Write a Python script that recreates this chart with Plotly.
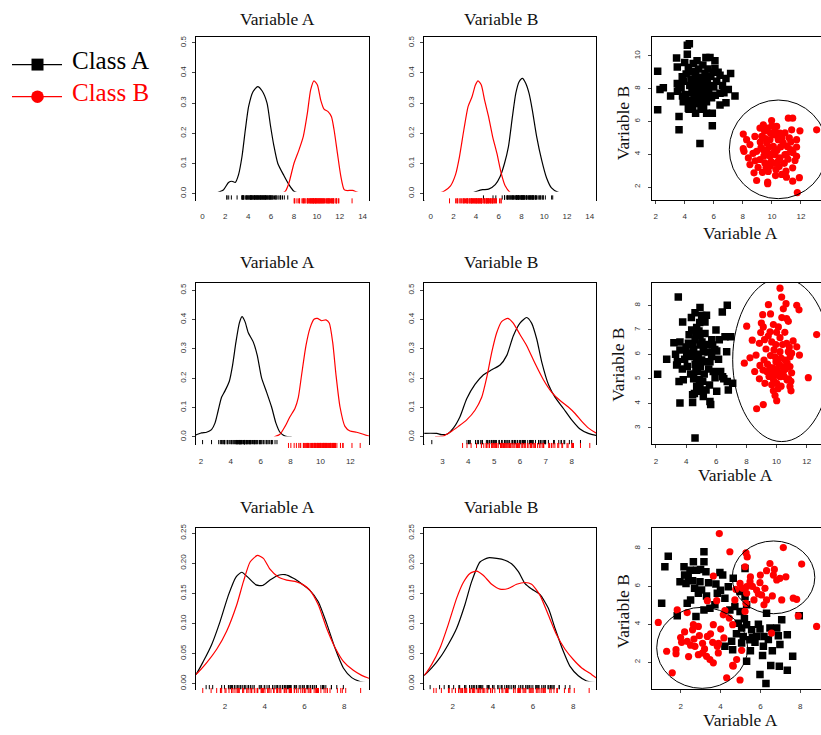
import plotly.graph_objects as go

# ------------------------------------------------------------------
# DATA
# Scatter points are (Variable A, Variable B) pairs
# ------------------------------------------------------------------
r1_classA = [(2.14, 9.07), (2.14, 6.71), (2.53, 8.06), (2.30, 7.96), (3.03, 7.56), (3.44, 9.88),
             (3.61, 6.30), (3.61, 5.49), (4.18, 10.65), (4.32, 10.75), (4.18, 10.10), (3.49, 9.33),
             (3.49, 8.32), (3.83, 8.73), (4.59, 9.54), (3.90, 7.21), (5.05, 4.65), (5.46, 9.90),
             (5.74, 9.90), (6.08, 9.70), (6.08, 9.23), (7.16, 8.93), (6.84, 8.63), (6.43, 8.83),
             (7.00, 7.96), (7.46, 7.56), (6.84, 7.15), (6.43, 7.01), (6.43, 7.72), (5.90, 6.51),
             (5.90, 5.74), (5.51, 6.51), (5.12, 6.75), (4.75, 6.51), (4.25, 6.81),
             (3.75, 8.05), (3.95, 8.45), (4.05, 7.65), (4.10, 8.90), (4.20, 7.30), (4.25, 9.30),
             (4.35, 8.20), (4.40, 7.00), (4.45, 8.60), (4.50, 7.75), (4.55, 9.05), (4.60, 8.30),
             (4.65, 7.40), (4.70, 8.00), (4.75, 8.80), (4.80, 7.10), (4.85, 7.60), (4.90, 8.45),
             (4.95, 9.20), (5.00, 7.85), (5.05, 8.10), (5.10, 7.30), (5.15, 8.70), (5.20, 7.70),
             (5.25, 9.45), (5.30, 8.25), (5.35, 7.50), (5.40, 8.95), (5.45, 7.95), (5.50, 7.20),
             (5.55, 8.50), (5.60, 9.20), (5.65, 7.75), (5.70, 8.20), (5.80, 8.75), (5.85, 7.45),
             (5.95, 9.00), (6.00, 8.10), (6.10, 7.60), (6.20, 8.45), (3.85, 7.55), (4.00, 9.60),
             (4.30, 6.75), (4.55, 6.90), (4.85, 9.70), (5.30, 6.90), (6.30, 9.00), (6.60, 8.20),
             (6.70, 7.75), (3.60, 8.20), (3.50, 7.85)]
r1_classB = [(8.03, 5.23), (8.03, 4.34), (8.08, 4.18), (8.38, 3.78), (8.49, 3.37), (8.77, 2.87),
             (8.95, 2.40), (8.26, 4.89), (8.49, 4.59), (8.83, 5.09), (9.18, 5.60), (9.41, 5.80),
             (9.71, 2.30), (9.71, 2.20), (9.98, 6.06), (10.33, 5.70), (10.56, 5.29), (11.13, 6.20),
             (11.43, 6.20), (11.36, 5.49), (11.93, 5.43), (13.08, 5.49), (11.70, 4.89), (11.70, 4.44),
             (11.70, 3.88), (11.43, 3.17), (11.59, 3.62), (11.89, 2.57), (11.43, 2.36), (11.75, 1.66),
             (10.67, 2.77), (10.97, 2.97), (10.28, 3.07), (9.87, 3.27), (9.52, 3.47), (9.18, 3.68),
             (8.95, 4.18), (9.41, 4.28), (9.64, 4.69), (9.87, 4.89), (10.10, 5.19), (10.44, 4.89),
             (10.78, 4.69), (11.06, 4.48), (11.29, 4.28), (10.90, 3.98), (10.56, 3.78), (10.21, 3.98),
             (9.87, 3.88), (9.64, 4.18), (10.10, 4.48), (9.30, 5.10), (9.50, 5.40), (9.70, 5.60),
             (9.90, 5.30), (10.00, 5.75), (10.20, 5.45), (9.20, 4.75), (9.45, 3.90), (9.60, 3.20),
             (9.75, 2.95), (9.95, 3.55), (10.05, 4.05), (10.15, 3.45), (10.35, 4.25), (10.45, 3.60),
             (10.60, 4.45), (10.70, 5.00), (10.85, 3.45), (10.90, 5.30), (11.00, 4.00), (11.10, 3.70),
             (11.20, 5.00), (11.30, 4.75), (11.45, 4.10), (9.35, 2.90), (9.05, 3.20), (8.70, 4.05),
             (9.80, 4.45), (9.55, 4.95), (10.25, 2.70), (10.50, 3.25), (11.00, 2.60), (8.85, 3.60),
             (9.25, 4.40), (10.40, 5.10)]

r2_classA = [(2.11, 5.19), (2.71, 5.80), (3.19, 6.47), (3.48, 8.34), (3.77, 7.32), (3.59, 6.51),
             (3.59, 6.18), (3.42, 5.70), (3.37, 5.57), (3.53, 4.89), (3.81, 4.96), (3.59, 4.01),
             (4.37, 6.99), (4.43, 6.41), (4.08, 5.50), (4.15, 6.45), (4.59, 7.70), (4.92, 7.91),
             (5.03, 7.59), (5.25, 7.32), (4.43, 4.35), (4.43, 4.04), (4.59, 2.59), (4.65, 5.43),
             (4.88, 4.96), (4.92, 4.76), (5.14, 4.28), (4.92, 4.49), (5.32, 4.55), (5.58, 4.08),
             (5.63, 3.95), (6.03, 4.49), (5.92, 5.05), (6.29, 5.30), (6.42, 5.09), (6.73, 4.89),
             (6.80, 4.55), (7.09, 4.82), (6.69, 6.11), (6.73, 8.00), (6.40, 7.73), (6.58, 6.72),
             (6.96, 6.72), (5.98, 6.99), (5.76, 6.38), (6.03, 6.14), (5.58, 5.70), (5.69, 5.91),
             (5.14, 6.11), (4.92, 6.38), (5.25, 6.85), (4.92, 6.78), (4.70, 5.84), (5.03, 5.77),
             (5.36, 5.70), (4.04, 6.04), (4.26, 5.91), (4.50, 6.20), (4.60, 6.60), (4.70, 7.10),
             (4.75, 5.30), (4.80, 6.00), (4.85, 6.95), (4.60, 5.60), (4.70, 4.70), (4.50, 5.00),
             (4.30, 5.20), (4.20, 6.80), (4.00, 6.30), (4.95, 5.50), (5.05, 6.50), (5.20, 5.20),
             (5.10, 4.90), (5.30, 6.40), (5.45, 6.10), (5.50, 5.40), (5.70, 6.60), (5.80, 5.30),
             (5.35, 7.60), (3.90, 5.80), (3.75, 5.40), (3.30, 6.00), (4.35, 7.50), (4.90, 7.30),
             (5.55, 4.75), (6.15, 5.80), (6.50, 5.00), (6.20, 6.60), (5.90, 6.20), (4.40, 6.00),
             (4.55, 4.40), (4.65, 6.90)]
r2_classB = [(10.23, 8.70), (10.34, 8.34), (9.46, 8.03), (10.63, 8.07), (10.45, 7.86), (11.34, 8.00),
             (11.49, 7.82), (9.08, 7.62), (10.67, 7.46), (10.78, 7.35), (8.02, 7.15), (8.99, 7.28),
             (9.12, 7.12), (9.79, 7.22), (10.12, 7.12), (8.95, 6.89), (9.57, 6.92), (12.66, 6.81),
             (8.39, 6.58), (8.86, 6.45), (9.68, 6.51), (10.23, 6.68), (10.67, 6.45), (11.34, 6.31),
             (11.52, 5.97), (9.30, 6.22), (9.83, 6.18), (8.64, 5.97), (8.24, 5.86), (7.86, 5.64),
             (9.17, 5.77), (10.23, 6.11), (10.78, 6.11), (10.56, 5.77), (9.96, 5.70), (9.57, 5.46),
             (8.55, 5.30), (9.10, 5.36), (9.87, 5.16), (10.45, 5.30), (10.89, 5.50), (12.11, 5.05),
             (8.86, 5.00), (9.23, 4.82), (9.68, 4.76), (10.01, 4.82), (10.23, 5.09), (10.89, 4.69),
             (10.96, 4.51), (9.79, 4.51), (9.90, 4.32), (10.01, 4.11), (9.12, 3.95), (8.68, 3.78),
             (9.40, 5.60), (9.60, 5.95), (9.75, 5.45), (9.90, 5.90), (10.05, 5.35), (10.15, 5.60),
             (10.30, 5.85), (10.40, 5.50), (10.50, 5.10), (10.60, 5.40), (10.70, 5.65), (10.80, 5.00),
             (10.85, 6.30), (10.30, 4.70), (10.10, 4.60), (9.50, 5.10), (9.35, 5.30), (9.95, 6.40),
             (10.00, 6.90), (10.40, 6.40), (10.55, 6.90), (10.90, 5.90), (11.00, 5.25), (9.20, 6.60),
             (9.45, 6.75), (10.70, 4.95), (10.20, 5.25), (9.65, 5.25), (8.90, 5.55), (9.80, 4.95),
             (10.35, 7.50), (11.10, 6.55), (9.60, 7.65), (10.95, 4.90), (11.00, 6.05)]

r3_classA = [(1.05, 5.11), (1.21, 7.04), (1.38, 7.60), (1.83, 4.45), (1.97, 6.25), (2.17, 7.04),
             (2.27, 6.16), (2.38, 6.51), (2.47, 6.86), (2.64, 7.30), (2.80, 6.86), (3.17, 7.83),
             (3.17, 7.30), (3.27, 6.78), (2.50, 5.29), (2.33, 5.11), (2.77, 4.41), (2.97, 6.25),
             (2.89, 5.64), (3.05, 5.81), (3.17, 4.76), (3.47, 4.85), (3.72, 5.03), (3.77, 6.13),
             (3.97, 6.74), (4.11, 6.60), (3.84, 5.64), (4.39, 5.99), (4.64, 6.43), (4.22, 5.38),
             (4.47, 4.76), (4.72, 4.94), (4.98, 5.73), (5.23, 5.46), (5.31, 5.03), (5.23, 6.95),
             (4.98, 4.68), (4.89, 4.06), (5.06, 3.80), (5.31, 3.98), (5.56, 3.71), (5.81, 3.36),
             (5.98, 3.75), (6.31, 4.59), (6.18, 3.36), (6.48, 3.80), (6.82, 3.80), (6.98, 2.93),
             (7.07, 4.24), (7.35, 3.45), (7.62, 2.31), (7.95, 4.45), (6.95, 1.79), (6.52, 1.83),
             (5.98, 1.35), (6.28, 0.88), (7.35, 1.58), (6.15, 2.84), (6.11, 2.35), (5.31, 2.05),
             (5.06, 3.01), (4.56, 3.10), (4.61, 2.66), (4.22, 2.84), (5.48, 3.19), (5.73, 3.05),
             (5.14, 3.36), (2.60, 6.30), (2.20, 6.60), (3.40, 6.20), (3.00, 6.90), (2.70, 5.90),
             (3.30, 5.50), (4.00, 5.80), (5.60, 3.30), (5.90, 4.00), (6.40, 3.20), (6.60, 2.60),
             (5.20, 4.30), (5.50, 2.60), (6.90, 3.40), (4.80, 3.50)]
r3_classB = [(0.88, 4.10), (1.30, 2.58), (1.58, 1.44), (1.77, 2.66), (1.77, 2.45), (1.83, 4.76),
             (2.33, 4.62), (2.05, 3.05), (2.33, 3.10), (2.60, 3.71), (2.64, 3.98), (2.89, 3.89),
             (2.67, 3.22), (2.94, 3.40), (2.72, 2.84), (2.89, 2.40), (3.10, 2.49), (3.30, 2.31),
             (3.47, 2.14), (3.64, 1.97), (3.34, 3.36), (3.61, 3.05), (3.64, 3.98), (3.84, 2.84),
             (3.89, 2.49), (4.01, 3.75), (4.17, 3.28), (4.31, 1.18), (4.61, 1.83), (4.81, 2.14),
             (4.98, 1.06), (5.06, 2.63), (4.14, 4.50), (4.22, 4.73), (4.44, 4.33), (4.61, 3.98),
             (3.81, 5.25), (3.34, 5.25), (3.64, 6.55), (3.94, 8.79), (4.47, 7.83), (4.72, 5.29),
             (4.77, 5.85), (5.28, 7.77), (5.34, 7.56), (5.23, 7.04), (5.31, 5.99), (5.31, 5.64),
             (5.28, 5.11), (5.23, 4.68), (4.98, 6.16), (5.68, 5.29), (5.81, 5.81), (5.48, 6.25),
             (5.98, 6.20), (6.23, 5.90), (6.06, 5.55), (6.18, 5.03), (6.31, 5.29), (6.48, 7.21),
             (6.31, 6.83), (6.65, 6.60), (6.82, 6.34), (6.98, 6.43), (7.15, 8.05), (7.28, 6.51),
             (8.07, 7.18), (7.07, 5.29), (7.82, 5.32), (7.65, 5.38), (7.90, 4.45), (8.82, 3.89),
             (6.56, 3.54), (4.64, 1.79), (2.20, 3.60), (2.50, 2.90), (3.10, 3.00), (3.20, 2.70),
             (2.40, 2.30), (2.00, 3.30), (3.50, 3.50), (3.90, 3.00), (5.60, 6.00), (5.90, 5.60),
             (6.00, 6.60), (6.60, 5.50), (5.10, 5.90), (6.70, 6.90), (5.50, 6.50)]

# Density curves: (value, density)
r1_dA_classA = [(1.11, 0), (1.85, 0.013), (2.28, 0.037), (2.58, 0.041), (2.87, 0.037), (3.16, 0.063),
                (3.46, 0.123), (3.75, 0.211), (4.04, 0.289), (4.42, 0.338), (4.83, 0.355), (5.21, 0.341),
                (5.65, 0.300), (5.95, 0.225), (6.24, 0.160), (6.59, 0.100), (7.12, 0.060), (7.56, 0.030),
                (8.00, 0.008), (8.52, 0)]
r1_dA_classB = [(6.88, 0), (7.26, 0.008), (7.56, 0.035), (8.00, 0.100), (8.44, 0.145), (8.82, 0.190),
                (9.17, 0.266), (9.46, 0.344), (9.75, 0.374), (10.05, 0.360), (10.34, 0.310), (10.63, 0.280),
                (10.98, 0.272), (11.28, 0.255), (11.51, 0.211), (11.80, 0.134), (12.10, 0.057),
                (12.39, 0.013), (12.68, 0.010), (13.12, 0.011), (13.56, 0.004), (14.09, 0)]
r1_dB_classA = [(3.50, 0), (4.08, 0.008), (4.58, 0.013), (5.10, 0.015), (5.69, 0.030), (6.12, 0.057),
                (6.50, 0.100), (6.85, 0.156), (7.20, 0.255), (7.50, 0.333), (7.79, 0.371), (8.08, 0.382),
                (8.37, 0.366), (8.66, 0.333), (8.95, 0.278), (9.33, 0.190), (9.77, 0.112), (10.21, 0.052),
                (10.64, 0.019), (11.23, 0.004), (11.81, 0)]
r1_dB_classB = [(0.58, 0), (1.17, 0.008), (1.75, 0.026), (2.19, 0.063), (2.54, 0.123), (2.92, 0.211),
                (3.30, 0.289), (3.65, 0.322), (3.94, 0.360), (4.17, 0.374), (4.46, 0.360), (4.75, 0.310),
                (5.10, 0.255), (5.45, 0.190), (5.83, 0.134), (6.21, 0.068), (6.56, 0.026), (7.00, 0.004),
                (7.29, 0)]

r2_dA_classA = [(1.40, 0.004), (1.67, 0.007), (2.04, 0.014), (2.38, 0.016), (2.71, 0.025), (2.94, 0.047),
                (3.16, 0.091), (3.38, 0.135), (3.61, 0.157), (3.90, 0.190), (4.12, 0.245), (4.34, 0.322),
                (4.57, 0.388), (4.75, 0.410), (4.95, 0.393), (5.17, 0.355), (5.50, 0.324), (5.77, 0.278),
                (6.06, 0.201), (6.40, 0.152), (6.73, 0.102), (7.02, 0.047), (7.29, 0.016), (7.63, 0.003),
                (8.07, 0)]
r2_dA_classB = [(6.89, 0), (7.29, 0.009), (7.63, 0.036), (7.96, 0.069), (8.29, 0.097), (8.52, 0.135),
                (8.74, 0.212), (9.03, 0.311), (9.30, 0.371), (9.57, 0.401), (9.79, 0.404), (10.08, 0.396),
                (10.37, 0.399), (10.59, 0.388), (10.82, 0.322), (11.04, 0.212), (11.31, 0.102),
                (11.64, 0.036), (11.98, 0.020), (12.42, 0.016), (12.76, 0.011), (13.25, 0.003),
                (13.50, 0.001)]
r2_dB_classA = [(2.00, 0.012), (2.78, 0.012), (2.97, 0.008), (3.17, 0.009), (3.43, 0.031), (3.68, 0.069),
                (3.94, 0.130), (4.26, 0.179), (4.59, 0.212), (4.91, 0.229), (5.23, 0.245), (5.49, 0.278),
                (5.74, 0.344), (6.00, 0.388), (6.26, 0.407), (6.45, 0.388), (6.65, 0.333), (6.84, 0.256),
                (7.10, 0.179), (7.36, 0.135), (7.68, 0.097), (8.00, 0.058), (8.32, 0.027), (8.64, 0.012),
                (8.94, 0.005), (9.20, 0.002)]
r2_dB_classB = [(2.72, 0.001), (3.04, 0.003), (3.30, 0.016), (3.62, 0.036), (3.94, 0.058), (4.26, 0.091),
                (4.52, 0.135), (4.71, 0.201), (4.91, 0.289), (5.10, 0.355), (5.29, 0.393), (5.53, 0.404),
                (5.74, 0.388), (6.00, 0.349), (6.26, 0.311), (6.58, 0.251), (6.90, 0.196), (7.23, 0.152),
                (7.55, 0.124), (7.87, 0.102), (8.13, 0.080), (8.39, 0.053), (8.64, 0.031), (8.94, 0.014),
                (9.20, 0.006)]

r3_dA_classA = [(0.30, 0.009), (0.54, 0.0154), (0.91, 0.037), (1.33, 0.065), (1.75, 0.103), (2.17, 0.147),
                (2.55, 0.177), (2.84, 0.185), (3.17, 0.176), (3.56, 0.164), (3.89, 0.163), (4.26, 0.172),
                (4.68, 0.180), (5.02, 0.181), (5.44, 0.175), (5.85, 0.166), (6.27, 0.155), (6.69, 0.136),
                (7.11, 0.100), (7.53, 0.059), (7.95, 0.026), (8.37, 0.0099), (8.79, 0.0033), (9.24, 0.001),
                (9.50, 0.0005)]
r3_dA_classB = [(0.30, 0.010), (0.54, 0.0154), (1.08, 0.035), (1.58, 0.057), (2.08, 0.087), (2.59, 0.131),
                (2.92, 0.169), (3.26, 0.202), (3.63, 0.213), (3.93, 0.208), (4.26, 0.190), (4.68, 0.177),
                (5.10, 0.172), (5.60, 0.169), (5.94, 0.164), (6.27, 0.155), (6.69, 0.131), (7.11, 0.092),
                (7.53, 0.060), (7.95, 0.037), (8.45, 0.022), (8.87, 0.0137), (9.24, 0.0088), (9.50, 0.006)]
r3_dB_classA = [(0.30, 0.008), (0.59, 0.014), (0.96, 0.026), (1.37, 0.043), (1.78, 0.065), (2.20, 0.092),
                (2.61, 0.131), (2.94, 0.169), (3.36, 0.202), (3.77, 0.209), (4.19, 0.208), (4.60, 0.205),
                (4.93, 0.199), (5.27, 0.186), (5.60, 0.166), (5.93, 0.157), (6.34, 0.148), (6.76, 0.125),
                (7.09, 0.092), (7.50, 0.054), (7.83, 0.029), (8.25, 0.013), (8.66, 0.0044), (9.13, 0.0016),
                (9.40, 0.0008)]
r3_dB_classB = [(0.30, 0.008), (0.59, 0.014), (0.96, 0.032), (1.37, 0.059), (1.78, 0.098), (2.20, 0.142),
                (2.53, 0.168), (2.86, 0.183), (3.19, 0.187), (3.52, 0.180), (3.94, 0.165), (4.35, 0.157),
                (4.77, 0.158), (5.18, 0.165), (5.60, 0.168), (5.93, 0.165), (6.34, 0.147), (6.76, 0.114),
                (7.17, 0.081), (7.59, 0.057), (8.00, 0.040), (8.42, 0.026), (8.83, 0.017), (9.13, 0.0099),
                (9.40, 0.006)]

# Ellipses drawn on the scatter panels: (center A, center B, radius A, radius B)
r1_ellipses = [(10.44, 4.30, 3.37, 3.01)]
r2_ellipses = [(10.34, 5.78, 3.25, 3.34)]
r3_ellipses = [(6.66, 6.48, 2.07, 1.92), (3.08, 2.76, 2.28, 2.14)]

# Tick values
ticks_0_14 = [0, 2, 4, 6, 8, 10, 12, 14]
ticks_2_12 = [2, 4, 6, 8, 10, 12]
ticks_3_8 = [3, 4, 5, 6, 7, 8]
ticks_2_8 = [2, 4, 6, 8]
ticks_2_10 = [2, 4, 6, 8, 10]
dens_ticks_05 = [0, 0.1, 0.2, 0.3, 0.4, 0.5]
dens_ticks_025 = [0, 0.05, 0.10, 0.15, 0.20, 0.25]

class_names = ["Class A", "Class B"]
var_names = ["Variable A", "Variable B"]

# ------------------------------------------------------------------
# LAYOUT GEOMETRY (pixels)
# ------------------------------------------------------------------
W, H = 821, 735
COLS = [(196.0, 369.0), (424.3, 596.0), (652.3, 821.0)]
ROWS = [(33.0, 197.0), (280.5, 443.3), (527.3, 690.0)]
COL_A = "#000000"
COL_B = "#FF0000"
SERIF = "Liberation Serif, Times New Roman, serif"
SANS = "Liberation Sans, Arial, sans-serif"
RUG_HALF = 8.0   # half height (px) of the thin strip used for the rug marks

rows = [
    dict(A=r1_classA, B=r1_classB,
         dens=[(r1_dA_classA, r1_dA_classB), (r1_dB_classA, r1_dB_classB)],
         dx=[[-0.56, 14.56], [-0.56, 14.56]], dxt=[ticks_0_14, ticks_0_14],
         dy=[-0.02, 0.52], dyt=dens_ticks_05, dyf=".1f",
         sx=[1.77, 13.38], sy=[1.23, 11.17], sxt=ticks_2_12, syt=ticks_2_10,
         ell=r1_ellipses),
    dict(A=r2_classA, B=r2_classB,
         dens=[(r2_dA_classA, r2_dA_classB), (r2_dB_classA, r2_dB_classB)],
         dx=[[1.67, 13.25], [2.30, 8.94]], dxt=[ticks_2_12, ticks_3_8],
         dy=[-0.025, 0.526], dyt=dens_ticks_05, dyf=".1f",
         sx=[1.755, 12.95], sy=[2.33, 8.93], sxt=ticks_2_12, syt=ticks_3_8,
         ell=r2_ellipses),
    dict(A=r3_classA, B=r3_classB,
         dens=[(r3_dA_classA, r3_dA_classB), (r3_dB_classA, r3_dB_classB)],
         dx=[[0.54, 9.24], [0.59, 9.13]], dxt=[ticks_2_8, ticks_2_8],
         dy=[-0.0095, 0.259], dyt=dens_ticks_025, dyf=".2f",
         sx=[0.58, 9.04], sy=[0.57, 9.10], sxt=ticks_2_8, syt=ticks_2_8,
         ell=r3_ellipses),
]

fig = go.Figure()
layout_axes = {}
shapes = []
annotations = []


def axis_style(rng, tickvals, fmt=None, angle=0, mirror=True, standoff=3):
    d = dict(range=rng, tickvals=tickvals, showline=True, linecolor="black", linewidth=1,
             mirror=mirror, ticks="outside", ticklen=3, tickwidth=1, tickcolor="#444",
             tickfont=dict(family=SANS, size=8, color="#333"), showgrid=False, zeroline=False,
             tickangle=angle, ticklabelstandoff=standoff, fixedrange=True)
    if fmt:
        d["tickformat"] = fmt
    return d


rug_axis_no = 10
for r, spec in enumerate(rows):
    top, bot = ROWS[r]
    ydom = [1 - bot / H, 1 - top / H]
    for c in range(3):
        n = r * 3 + c + 1
        sfx = "" if n == 1 else str(n)
        xa, ya = "x" + sfx, "y" + sfx
        xdom = [COLS[c][0] / W, COLS[c][1] / W]
        if c < 2:
            layout_axes["xaxis" + sfx] = dict(domain=xdom, anchor=ya,
                                              **axis_style(spec["dx"][c], spec["dxt"][c], standoff=6))
            layout_axes["yaxis" + sfx] = dict(domain=ydom, anchor=xa,
                                              **axis_style(spec["dy"], spec["dyt"], spec["dyf"], -90, standoff=3))
            curves = spec["dens"][c]
            for curve, col in zip(curves, [COL_A, COL_B]):
                fig.add_trace(go.Scatter(x=[p[0] for p in curve], y=[p[1] for p in curve],
                                         mode="lines", line=dict(color=col, width=1.2, shape="spline",
                                                                 smoothing=0.6),
                                         xaxis=xa, yaxis=ya, showlegend=False, hoverinfo="skip"))
            # rugs: a hidden thin y-axis (in px units) straddling the bottom edge of the panel
            rsfx = str(rug_axis_no)
            rug_axis_no += 1
            layout_axes["yaxis" + rsfx] = dict(domain=[(H - bot - RUG_HALF) / H, (H - bot + RUG_HALF) / H],
                                               range=[-RUG_HALF, RUG_HALF], anchor=xa, visible=False,
                                               fixedrange=True)
            for pts, col, off, sz in [(spec["A"], COL_A, 2.2, 3.0), (spec["B"], COL_B, -1.2, 3.6)]:
                vals = [p[c] for p in pts]
                fig.add_trace(go.Scatter(x=vals, y=[off] * len(vals), mode="markers",
                                         marker=dict(symbol="line-ns", size=sz, color=col,
                                                     line=dict(color=col, width=1)),
                                         xaxis=xa, yaxis="y" + rsfx, showlegend=False, cliponaxis=False,
                                         hoverinfo="skip"))
            # title
            annotations.append(dict(text=var_names[c], xref="paper", yref="paper",
                                    x=(277 if c == 0 else 501) / W,
                                    y=1 - [15.5, 259.5, 506.5][r] / H,
                                    xanchor="center", yanchor="middle", showarrow=False,
                                    font=dict(family=SERIF, size=17.5, color="#111")))
        else:
            layout_axes["xaxis" + sfx] = dict(domain=xdom, anchor=ya,
                                              **axis_style(spec["sx"], spec["sxt"], standoff=6))
            layout_axes["yaxis" + sfx] = dict(domain=ydom, anchor=xa,
                                              **axis_style(spec["sy"], spec["syt"], None, -90,
                                                           mirror=False, standoff=5))
            fig.add_trace(go.Scatter(x=[p[0] for p in spec["A"]], y=[p[1] for p in spec["A"]],
                                     mode="markers", name=class_names[0],
                                     marker=dict(symbol="square", size=7.5, color=COL_A),
                                     xaxis=xa, yaxis=ya, showlegend=False))
            fig.add_trace(go.Scatter(x=[p[0] for p in spec["B"]], y=[p[1] for p in spec["B"]],
                                     mode="markers", name=class_names[1],
                                     marker=dict(symbol="circle", size=7.2, color=COL_B),
                                     xaxis=xa, yaxis=ya, showlegend=False))
            for (cx, cy, rx, ry) in spec["ell"]:
                shapes.append(dict(type="circle", xref=xa, yref=ya, x0=cx - rx, x1=cx + rx,
                                   y0=cy - ry, y1=cy + ry, line=dict(color="black", width=1),
                                   layer="above"))
            annotations.append(dict(text=var_names[0], xref="paper", yref="paper",
                                    x=[740, 735, 740][r] / W, y=1 - [230.5, 474.0, 721.0][r] / H,
                                    xanchor="center", yanchor="middle", showarrow=False,
                                    font=dict(family=SERIF, size=17.5, color="#111")))
            annotations.append(dict(text=var_names[1], xref="paper", yref="paper",
                                    x=[623, 618, 623][r] / W, y=1 - [120, 363.3, 611.7][r] / H,
                                    xanchor="center", yanchor="middle", showarrow=False, textangle=-90,
                                    font=dict(family=SERIF, size=17.5, color="#111")))

# ------------------------------------------------------------------
# Legend (top-left)
# ------------------------------------------------------------------
leg_items = [(class_names[0], COL_A, 61.0, "rect"), (class_names[1], COL_B, 93.3, "circle")]
for label, col, yc, sym in leg_items:
    yp = 1 - yc / H
    shapes.append(dict(type="line", xref="paper", yref="paper", x0=12 / W, x1=62 / W, y0=yp, y1=yp,
                       line=dict(color=col, width=1.2)))
    half = 6.0 if sym == "rect" else 6.3
    shapes.append(dict(type=sym, xref="paper", yref="paper", x0=(37.5 - half) / W, x1=(37.5 + half) / W,
                       y0=1 - (yc + half) / H, y1=1 - (yc - half) / H, fillcolor=col,
                       line=dict(color=col, width=0)))
    annotations.append(dict(text=label, xref="paper", yref="paper", x=70 / W,
                            y=1 - (yc - 4.0) / H, xanchor="left",
                            yanchor="middle", showarrow=False,
                            font=dict(family=SERIF, size=25, color=col)))

fig.update_layout(width=W, height=H, margin=dict(l=0, r=0, t=0, b=0), paper_bgcolor="white",
                  plot_bgcolor="white", showlegend=False, shapes=shapes, annotations=annotations,
                  **layout_axes)

fig.write_html("out.html")
